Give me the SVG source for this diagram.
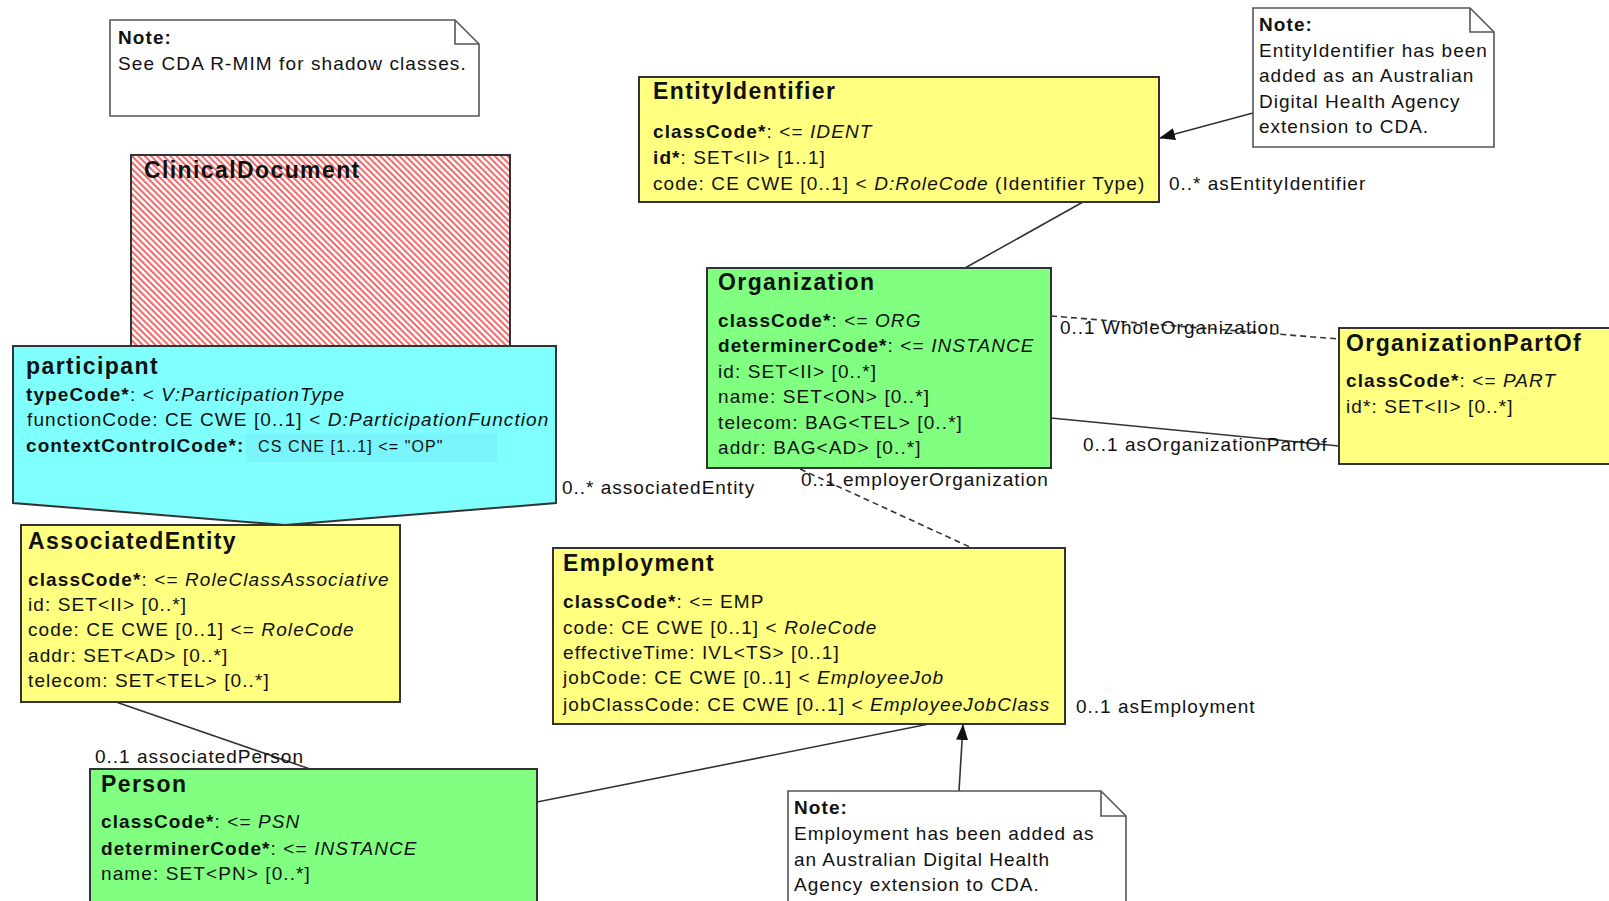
<svg xmlns="http://www.w3.org/2000/svg" width="1609" height="901" viewBox="0 0 1609 901">
<style>
text{font-family:"Liberation Sans",Arial,sans-serif;font-size:19px;letter-spacing:1.1px;fill:#111}
.t{font-size:23px;font-weight:bold;letter-spacing:1.4px}
.b{font-weight:bold}
.i{font-style:italic}
.cls{stroke:#333;stroke-width:2}
.y{fill:#FFFF80}
.g{fill:#80FF80}
.c{fill:#80FFFF}
.note{fill:#fff;stroke:#555;stroke-width:1.6}
.fold{fill:none;stroke:#555;stroke-width:1.6}
.ln{fill:none;stroke:#333;stroke-width:1.6}
.dash{stroke-dasharray:6,4}
.small{font-size:16px;letter-spacing:1.1px}
.lbl{letter-spacing:1px}
</style>
<defs>
<pattern id="hatch" width="4.5" height="4.5" patternUnits="userSpaceOnUse" patternTransform="rotate(-45)">
<rect width="4.5" height="4.5" fill="#fff"/>
<rect width="2" height="4.5" fill="#F06868"/>
</pattern>
<marker id="arr" markerWidth="16" markerHeight="12" refX="15" refY="6" orient="auto" markerUnits="userSpaceOnUse">
<path d="M0,0 L16,6 L0,12 z" fill="#111"/>
</marker>
</defs>
<rect width="1609" height="901" fill="#fff"/>

<g id="connectors">
<line class="ln" x1="1253" y1="113" x2="1160" y2="138" marker-end="url(#arr)"/>
<line class="ln" x1="1083" y1="202" x2="965" y2="268"/>
<line class="ln dash" x1="1051" y1="316" x2="1339" y2="339"/>
<line class="ln" x1="1051" y1="418" x2="1339" y2="446"/>
<line class="ln dash" x1="800" y1="469" x2="972" y2="548"/>
<line class="ln" x1="116" y1="702" x2="310" y2="769"/>
<line class="ln" x1="537" y1="802" x2="929" y2="724"/>
<line class="ln" x1="959" y1="791" x2="963" y2="725" marker-end="url(#arr)"/>
<text class="lbl" x="1169" y="190">0..* asEntityIdentifier</text>
<text class="lbl" x="1060" y="334">0..1 WholeOrganization</text>
<text class="lbl" x="1083" y="451">0..1 asOrganizationPartOf</text>
<text class="lbl" x="801" y="486">0..1 employerOrganization</text>
<text class="lbl" x="562" y="494">0..* associatedEntity</text>
<text class="lbl" x="1076" y="713">0..1 asEmployment</text>
<text class="lbl" x="95" y="763">0..1 associatedPerson</text>
</g>

<g id="note1">
<path class="note" d="M110,20 H455 L479,44 V116 H110 Z"/>
<path class="fold" d="M455,20 V44 H479"/>
<text x="118" y="44" class="b">Note:</text>
<text x="118" y="70">See CDA R-MIM  for shadow classes.</text>
</g>

<g id="ClinicalDocument">
<rect x="131" y="155" width="379" height="192" fill="url(#hatch)" class="cls"/>
<text x="144" y="178" class="t">ClinicalDocument</text>
</g>

<g id="participant">
<path class="cls c" d="M13,346 H556 V503 L285,525 L13,503 Z"/>
<text x="26" y="374" class="t">participant</text>
<text x="26" y="401"><tspan class="b">typeCode*</tspan>: &lt; <tspan class="i">V:ParticipationType</tspan></text>
<text x="27" y="426">functionCode: CE CWE [0..1] &lt; <tspan class="i">D:ParticipationFunction</tspan></text>
<rect x="246" y="433" width="251" height="29" fill="#78F4FA"/>
<text x="26" y="452" class="b">contextControlCode*:</text>
<text x="258" y="452" class="small">CS CNE [1..1] &lt;= "OP"</text>
</g>

<g id="EntityIdentifier">
<rect x="639" y="77" width="520" height="125" class="cls y"/>
<text x="653" y="99" class="t">EntityIdentifier</text>
<text x="653" y="138"><tspan class="b">classCode*</tspan>: &lt;= <tspan class="i">IDENT</tspan></text>
<text x="653" y="164"><tspan class="b">id*</tspan>: SET&lt;II&gt; [1..1]</text>
<text x="653" y="190">code: CE CWE [0..1] &lt; <tspan class="i">D:RoleCode</tspan> (Identifier Type)</text>
</g>

<g id="note2">
<path class="note" d="M1253,8 H1470 L1494,32 V147 H1253 Z"/>
<path class="fold" d="M1470,8 V32 H1494"/>
<text x="1259" y="31" class="b">Note:</text>
<text class="lbl" x="1259" y="57">EntityIdentifier has been</text>
<text class="lbl" x="1259" y="82">added as an Australian</text>
<text class="lbl" x="1259" y="108">Digital Health Agency</text>
<text class="lbl" x="1259" y="133">extension to CDA.</text>
</g>

<g id="Organization">
<rect x="707" y="268" width="344" height="200" class="cls g"/>
<text x="718" y="290" class="t">Organization</text>
<text x="718" y="327"><tspan class="b">classCode*</tspan>: &lt;= <tspan class="i">ORG</tspan></text>
<text x="718" y="352"><tspan class="b">determinerCode*</tspan>: &lt;= <tspan class="i">INSTANCE</tspan></text>
<text x="718" y="378">id: SET&lt;II&gt; [0..*]</text>
<text x="718" y="403">name: SET&lt;ON&gt; [0..*]</text>
<text x="718" y="429">telecom: BAG&lt;TEL&gt; [0..*]</text>
<text x="718" y="454">addr: BAG&lt;AD&gt; [0..*]</text>
</g>

<g id="OrganizationPartOf">
<rect x="1339" y="328" width="280" height="136" class="cls y"/>
<text x="1346" y="351" class="t">OrganizationPartOf</text>
<text x="1346" y="387"><tspan class="b">classCode*</tspan>: &lt;= <tspan class="i">PART</tspan></text>
<text x="1346" y="413">id*: SET&lt;II&gt; [0..*]</text>
</g>

<g id="AssociatedEntity">
<rect x="21" y="525" width="379" height="177" class="cls y"/>
<text x="28" y="549" class="t">AssociatedEntity</text>
<text x="28" y="586"><tspan class="b">classCode*</tspan>: &lt;= <tspan class="i">RoleClassAssociative</tspan></text>
<text x="28" y="611">id: SET&lt;II&gt; [0..*]</text>
<text x="28" y="636">code: CE CWE [0..1] &lt;= <tspan class="i">RoleCode</tspan></text>
<text x="28" y="662">addr: SET&lt;AD&gt; [0..*]</text>
<text x="28" y="687">telecom: SET&lt;TEL&gt; [0..*]</text>
</g>

<g id="Employment">
<rect x="553" y="548" width="512" height="176" class="cls y"/>
<text x="563" y="571" class="t">Employment</text>
<text x="563" y="608"><tspan class="b">classCode*</tspan>: &lt;= EMP</text>
<text x="563" y="634">code: CE CWE [0..1] &lt; <tspan class="i">RoleCode</tspan></text>
<text x="563" y="659">effectiveTime: IVL&lt;TS&gt; [0..1]</text>
<text x="563" y="684">jobCode: CE CWE [0..1] &lt; <tspan class="i">EmployeeJob</tspan></text>
<text x="563" y="711">jobClassCode: CE CWE [0..1] &lt; <tspan class="i">EmployeeJobClass</tspan></text>
</g>

<g id="Person">
<rect x="90" y="769" width="447" height="140" class="cls g"/>
<text x="101" y="792" class="t">Person</text>
<text x="101" y="828"><tspan class="b">classCode*</tspan>: &lt;= <tspan class="i">PSN</tspan></text>
<text x="101" y="855"><tspan class="b">determinerCode*</tspan>: &lt;= <tspan class="i">INSTANCE</tspan></text>
<text x="101" y="880">name: SET&lt;PN&gt; [0..*]</text>
</g>

<g id="note3">
<path class="note" d="M788,791 H1101 L1126,816 V910 H788 Z"/>
<path class="fold" d="M1101,791 V816 H1126"/>
<text x="794" y="814" class="b">Note:</text>
<text class="lbl" x="794" y="840">Employment has been added as</text>
<text class="lbl" x="794" y="866">an Australian Digital Health</text>
<text class="lbl" x="794" y="891">Agency extension to CDA.</text>
</g>
</svg>
